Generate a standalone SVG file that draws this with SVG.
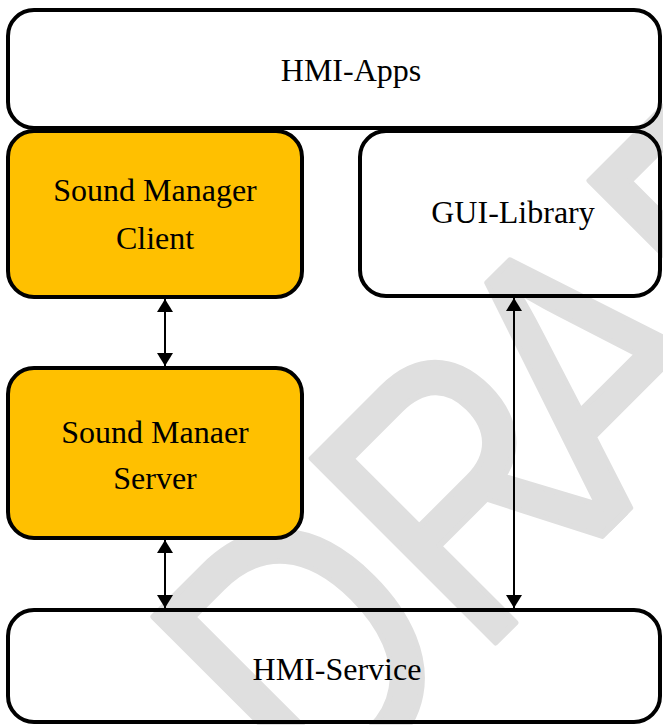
<svg xmlns="http://www.w3.org/2000/svg" width="663" height="725" viewBox="0 0 663 725">
<defs>
<style>
.box{stroke:#000;stroke-width:4}
.white{fill:none}
.orange{fill:#FFC000}
.lbl{font-family:"Liberation Serif","Times New Roman",serif;font-size:32px;fill:#000;text-anchor:middle}
.conn{stroke:#000;stroke-width:2;fill:none;marker-start:url(#ah);marker-end:url(#ah)}
.wm{font-family:"Liberation Sans",Arial,sans-serif;font-size:378px;fill:#dfdfdf;stroke:#dfdfdf;stroke-width:6;stroke-linejoin:round}
</style>
<marker id="ah" viewBox="0 0 13 16" refX="13" refY="8" markerUnits="userSpaceOnUse" markerWidth="13" markerHeight="16" orient="auto-start-reverse">
<path d="M0,0 L13,8 L0,16 z" fill="#000"/>
</marker>
</defs>
<rect width="663" height="725" fill="#fff"/>
<g id="watermark">
<text class="wm" x="0 273 500" transform="translate(319,819) rotate(-45) scale(0.82,1)">DRAFT</text>
</g>
<g id="hmi-apps">
<rect class="box white" x="8" y="10" width="652" height="118" rx="26"/>
<text class="lbl" x="351" y="81">HMI-Apps</text>
</g>
<g id="sound-manager-client">
<rect class="box orange" x="8" y="131" width="294" height="166" rx="26"/>
<text class="lbl" x="155" y="201">Sound Manager</text>
<text class="lbl" x="155" y="249">Client</text>
</g>
<g id="gui-library">
<rect class="box white" x="360" y="131" width="300" height="165" rx="26"/>
<text class="lbl" x="513" y="223">GUI-Library</text>
</g>
<g id="sound-manager-server">
<rect class="box orange" x="8" y="368" width="294" height="170" rx="26"/>
<text class="lbl" x="155" y="443">Sound Manaer</text>
<text class="lbl" x="155" y="489">Server</text>
</g>
<g id="hmi-service">
<rect class="box white" x="8" y="610" width="652" height="112" rx="26"/>
<text class="lbl" x="337" y="680">HMI-Service</text>
</g>
<g id="connectors">
<line class="conn" x1="165" y1="299" x2="165" y2="366"/>
<line class="conn" x1="165" y1="540" x2="165" y2="608"/>
<line class="conn" x1="514" y1="298" x2="514" y2="608"/>
</g>
</svg>
